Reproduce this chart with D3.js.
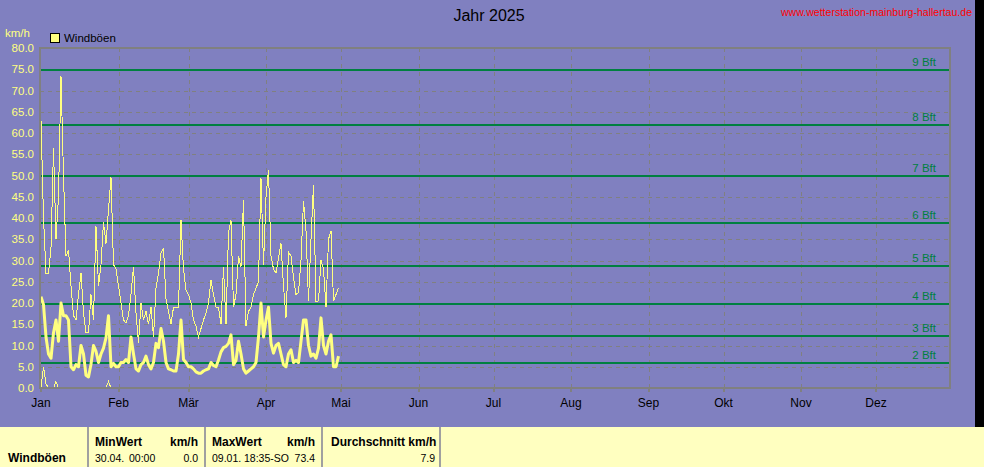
<!DOCTYPE html>
<html><head><meta charset="utf-8">
<script src="https://cdn.jsdelivr.net/npm/d3@7"></script>
<style>
html,body{margin:0;padding:0;background:#8080c0;overflow:hidden}
svg{display:block}
text{font-family:"Liberation Sans",Arial,sans-serif}
</style></head><body>
<svg id="c" width="984" height="467"></svg>
<script>
// ---------- data ----------
const months = ["Jan","Feb","Mär","Apr","Mai","Jun","Jul","Aug","Sep","Okt","Nov","Dez"];
const yTicks = [0,5,10,15,20,25,30,35,40,45,50,55,60,65,70,75,80];
const bftLevels = [2,3,4,5,6,7,8,9];
const bftKmh = [5.8,12.2,19.8,28.8,38.9,50.0,61.9,74.9];
// daily values from 01.01.2025 to 30.04.2025 (km/h)
const gustMax = [
 63,40,27,27,33,56.5,35,45,73.4,50, 31,32.5,24,17,16,22,27,17.6,13,13,
 22,16,38,24,29,39,34,42,49.6,29, 28,24,20,16,15.3,17,22,28.5,17.6,10.6,
 20,16,18,15,19,12,23.5,27,31.7,33, 21,18,15,19,19,19,39.5,28,23,22,
 20,16,14.5,12,14,16,17.6,20,25.4,22, 19,19,15,28.5,15,36.5,39.5,19,22,31,
 28.5,44.3,14.5,18,19,22,23.5,25,49.4,29, 45,51.3,31,28,27,30.6,34,24,16.5,32,
 31,26,22,22.5,30,44,37,20.4,35,47.8, 20.4,20.5,30,28,19,35,37,20.4,22,23.5
];
const gustAvg = [
 21.5,19.6,12,8,7,13,16,11,20,17, 17,16,5,4.3,5.5,5,10,8,3,2.6,
 5.6,10,8.6,6,8,9.4,11.8,17,5,5.8, 5,5,6,6,6.7,6,12,8,4.5,4,
 5.5,6,7.5,5.5,4.5,6,10.5,9.5,14,11, 6,4.5,4.3,4,4,8,16,6.7,6,5,
 5,4.5,3.8,3.5,3.5,4,4.3,4.5,6,5.3, 5,6.6,8.5,9.5,9.8,10.5,12.5,5.5,6.5,11,
 8,4.5,3.5,4,4.5,5,6,12,20,12, 16,19,10.5,8.2,10,10.5,8,5.5,5,8,
 9,6,6.5,6,11,16,16,10,7.5,8, 7,9.4,16.5,10,8,11,12.5,5,5,7.5
];
const gustMin = [
 0,5,1,0,0,0,1.5,0,0,0, 0,0,0,0,0,0,0,0,0,0,
 0,0,0,0,0,0,0,1.5,0,0, 0,0,0,0,0,0,0,0,0,0,
 0,0,0,0,0,0,0,0,0,0, 0,0,0,0,0,0,0,0,0,0,
 0,0,0,0,0,0,0,0,0,0, 0,0,0,0,0,0,0,0,0,0,
 0,0,0,0,0,0,0,0,0,0, 0,0,0,0,0,0,0,0,0,0,
 0,0,0,0,0,0,0,0,0,0, 0,0,0,0,0,0,0,0,0,0
];
const tableHead = ["MinWert","km/h","MaxWert","km/h","Durchschnitt km/h"];
const minDate = "30.04.", minTime = "00:00", minVal = "0.0";
const maxDate = "09.01.", maxTime = "18:35-SO", maxVal = "73.4";
const avgVal = "7.9";

// ---------- drawing ----------
const svg = d3.select("#c");
const W = 984, H = 467;
const start = new Date(Date.UTC(2025,0,1));
const x = d3.scaleUtc().domain([start, new Date(Date.UTC(2026,0,1))]).range([41, 953.5]);
const y = d3.scaleLinear().domain([0,80]).range([388,48]);
const L = 40, R = 950, T = 48, B = 388;
const grey = "#808080", yellow = "#ffff80", green = "#008040";

svg.append("rect").attr("width",W).attr("height",H).attr("fill","#8080c0");
svg.append("rect").attr("x",975).attr("y",0).attr("width",9).attr("height",427).attr("fill","#000");

// title, url
svg.append("text").attr("x",489).attr("y",21).attr("text-anchor","middle")
  .attr("font-size",16).attr("fill","#000").text("Jahr 2025");
svg.append("text").attr("x",972).attr("y",16).attr("text-anchor","end")
  .attr("font-size",11).attr("fill","#ff0000").attr("textLength",191).attr("lengthAdjust","spacingAndGlyphs")
  .text("www.wetterstation-mainburg-hallertau.de");

// unit, legend
svg.append("text").attr("x",5).attr("y",37).attr("font-size",11.5).attr("fill",yellow).text("km/h");
svg.append("rect").attr("x",50.5).attr("y",33.5).attr("width",9).attr("height",9)
  .attr("fill",yellow).attr("stroke","#000").attr("stroke-width",1);
svg.append("text").attr("x",64).attr("y",42).attr("font-size",11.5).attr("fill","#000").text("Windböen");

const monthStarts = months.map((m,i)=>new Date(Date.UTC(2025,i,1)));

// grid
const g = svg.append("g");
g.selectAll("line.h").data(yTicks.filter(v=>v>0&&v<80)).join("line")
  .attr("x1",L).attr("x2",R).attr("y1",d=>Math.round(y(d))+0.5).attr("y2",d=>Math.round(y(d))+0.5)
  .attr("stroke",grey).attr("stroke-dasharray","4,4").attr("shape-rendering","crispEdges");
g.selectAll("line.v").data(monthStarts.slice(1)).join("line")
  .attr("x1",d=>Math.round(x(d))+0.5).attr("x2",d=>Math.round(x(d))+0.5).attr("y1",T).attr("y2",B)
  .attr("stroke",grey).attr("stroke-dasharray","4,4").attr("shape-rendering","crispEdges");

// Beaufort lines
g.selectAll("line.b").data(bftKmh).join("line")
  .attr("x1",L).attr("x2",R).attr("y1",d=>Math.round(y(d))).attr("y2",d=>Math.round(y(d)))
  .attr("stroke",green).attr("stroke-width",2).attr("shape-rendering","crispEdges");
g.selectAll("text.b").data(bftKmh).join("text")
  .attr("x",936).attr("y",d=>Math.round(y(d))-4).attr("text-anchor","end")
  .attr("font-size",11.5).attr("fill",green).text((d,i)=>bftLevels[i]+" Bft");

// data lines
const line = d3.line().x((d,i)=>x(d3.utcDay.offset(start,i))).y(d=>y(d));
svg.append("path").datum(gustMax).attr("d",line).attr("fill","none")
  .attr("stroke",yellow).attr("stroke-width",1).attr("shape-rendering","crispEdges");
svg.append("path").datum(gustAvg).attr("d",line).attr("fill","none")
  .attr("stroke",yellow).attr("stroke-width",3).attr("stroke-linejoin","round");
svg.append("path").datum(gustMin).attr("d",line).attr("fill","none")
  .attr("stroke",yellow).attr("stroke-width",1).attr("shape-rendering","crispEdges");

// frame
svg.append("rect").attr("x",L).attr("y",T).attr("width",R-L).attr("height",B-T)
  .attr("fill","none").attr("stroke",grey).attr("stroke-width",2);

// y axis labels
svg.selectAll("text.y").data(yTicks).join("text")
  .attr("x",34).attr("y",d=>y(d)).attr("dy","0.36em").attr("text-anchor","end")
  .attr("font-size",11.5).attr("fill",yellow).text(d=>d.toFixed(1));

// x ticks and labels
svg.selectAll("line.t").data(monthStarts).join("line")
  .attr("x1",d=>Math.round(x(d))).attr("x2",d=>Math.round(x(d))).attr("y1",B).attr("y2",392)
  .attr("stroke",grey).attr("stroke-width",2);
svg.selectAll("text.m").data(monthStarts).join("text")
  .attr("x",d=>x(d)).attr("y",407).attr("text-anchor","middle")
  .attr("font-size",12).attr("fill","#000").text((d,i)=>months[i]);

// table
svg.append("rect").attr("x",0).attr("y",427).attr("width",W).attr("height",40).attr("fill","#ffffc0");
[88,205,322,440].forEach(px=>{
  svg.append("rect").attr("x",px-1).attr("y",427).attr("width",2).attr("height",40).attr("fill","#a0a0a0");
});
const tb = (t,xx,yy,anchor,bold,size)=>svg.append("text").attr("x",xx).attr("y",yy)
  .attr("text-anchor",anchor||"start").attr("font-weight",bold?"bold":"normal")
  .attr("font-size",size||10.5).attr("fill","#000").text(t);
tb("Windböen",8,462,"start",true,12);
tb(tableHead[0],95,446,"start",true,12);
tb(tableHead[1],198,446,"end",true,12);
tb(tableHead[2],212,446,"start",true,12);
tb(tableHead[3],315,446,"end",true,12);
tb(tableHead[4],331,446,"start",true,12);
tb(minDate,95,462); tb(minTime,129,462); tb(minVal,198,462,"end");
tb(maxDate,212,462); tb(maxTime,244,462); tb(maxVal,315,462,"end");
tb(avgVal,435,462,"end");
</script>
</body></html>
